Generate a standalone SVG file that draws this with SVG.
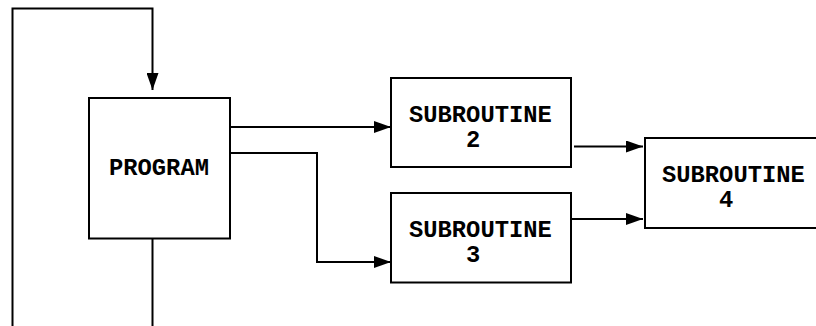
<svg xmlns="http://www.w3.org/2000/svg" width="816" height="326" viewBox="0 0 816 326">
<defs>
<marker id="ah" markerUnits="userSpaceOnUse" markerWidth="17" markerHeight="12" refX="17" refY="6" orient="auto">
<path d="M0,0 L17,6 L0,12 z" fill="#000"/>
</marker>
<style>
.box{fill:#fff;stroke:#000;stroke-width:2}
.lbl{font-family:"Liberation Mono","Courier New",monospace;font-weight:bold;font-size:23.8px;fill:#000}
.con{fill:none;stroke:#000;stroke-width:2}
</style>
</defs>
<rect width="816" height="326" fill="#fff"/>
<g id="connectors">
<path class="con" d="M152.5 238.5 V340 H12.5 V8.5 H152.5 V90" marker-end="url(#ah)"/>
<path class="con" d="M230 127 H391" marker-end="url(#ah)"/>
<path class="con" d="M230 153 H317 V262 H391" marker-end="url(#ah)"/>
<path class="con" d="M574 146.5 H643" marker-end="url(#ah)"/>
<path class="con" d="M571 219 H643" marker-end="url(#ah)"/>
</g>
<g id="program">
<rect class="box" x="89" y="98" width="141" height="140.5"/>
<text class="lbl" x="109" y="175">PROGRAM</text>
</g>
<g id="subroutine2">
<rect class="box" x="391" y="78" width="180" height="89"/>
<text class="lbl" x="409" y="121.7">SUBROUTINE</text>
<text class="lbl" x="466" y="146.7">2</text>
</g>
<g id="subroutine3">
<rect class="box" x="391" y="193" width="180" height="89.5"/>
<text class="lbl" x="409" y="236.7">SUBROUTINE</text>
<text class="lbl" x="466" y="261.7">3</text>
</g>
<g id="subroutine4">
<rect class="box" x="645" y="138" width="180" height="90"/>
<text class="lbl" x="662" y="181.7">SUBROUTINE</text>
<text class="lbl" x="719" y="206.7">4</text>
</g>
</svg>
